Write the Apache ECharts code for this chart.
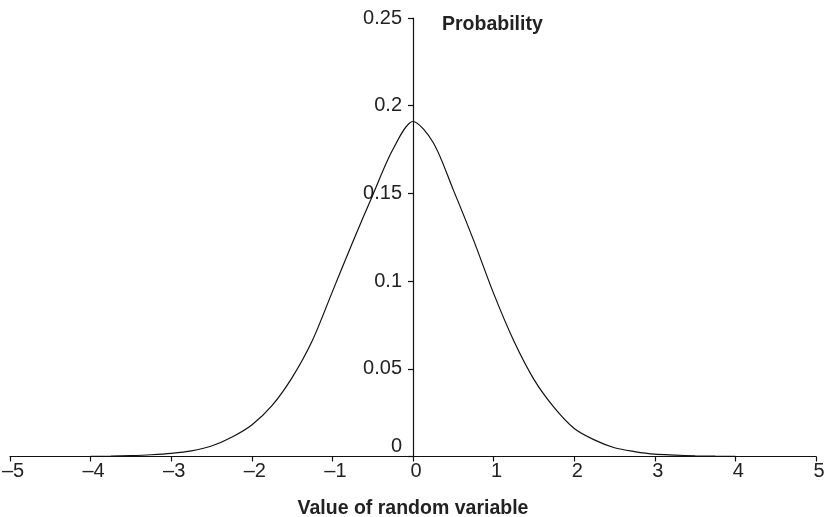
<!DOCTYPE html>
<html>
<head>
<meta charset="utf-8">
<script src="https://cdn.jsdelivr.net/npm/echarts@6/dist/echarts.min.js"></script>
<style>
html,body{margin:0;padding:0;background:#fff;}
#c{width:826px;height:517px;}
</style>
</head>
<body>
<div id="c"></div>
<script>
const xValues = [-4, -3.75, -3.5, -3.25, -3, -2.75, -2.5, -2.25, -2, -1.75, -1.5, -1.25, -1, -0.75, -0.5, -0.25, 0, 0.25, 0.5, 0.75, 1, 1.25, 1.5, 1.75, 2, 2.25, 2.5, 2.75, 3, 3.25, 3.5, 3.75, 4];
const probValues = [0.0001, 0.0002, 0.0005, 0.001, 0.0018, 0.0032, 0.006, 0.011, 0.018, 0.029, 0.045, 0.066, 0.094, 0.122, 0.149, 0.175, 0.191, 0.179, 0.152, 0.1235, 0.093, 0.066, 0.044, 0.028, 0.016, 0.0095, 0.005, 0.0028, 0.0013, 0.0008, 0.0004, 0.0002, 0.0001];
const xTitle = 'Value of random variable';
const yTitle = 'Probability';

const chart = echarts.init(document.getElementById('c'), null, {renderer: 'canvas'});
const font = '"Liberation Sans", Arial, Helvetica, sans-serif';
const data = xValues.map((x, i) => [x, probValues[i]]);

const gridLeft = 10, gridRight = 10;
const xMin = -5, xMax = 5;
const plotW = 826 - gridLeft - gridRight;
// offset that places the y axis at x = 0 of the value x axis
const yAxisOffset = -plotW * (0 - xMin) / (xMax - xMin);

chart.setOption({
  animation: false,
  backgroundColor: '#ffffff',
  grid: {left: gridLeft, right: gridRight, top: 18, bottom: 60.5, containLabel: false, outerBoundsMode: 'none'},
  title: [
    {text: yTitle, left: 437, top: 10, textStyle: {fontFamily: font, fontSize: 19.5, fontWeight: 'bold', color: '#222'}},
    {text: xTitle, left: 'center', top: 494, textStyle: {fontFamily: font, fontSize: 19.5, fontWeight: 'bold', color: '#222'}}
  ],
  xAxis: {
    type: 'value', min: xMin, max: xMax, interval: 1,
    axisLine: {onZero: false, lineStyle: {color: '#111', width: 1.2}},
    axisTick: {show: true, inside: false, length: 5, lineStyle: {color: '#111', width: 1.2}},
    axisLabel: {
      margin: 5, fontFamily: font, fontSize: 20, color: '#222', padding: [0, 0, 0, 6],
      formatter: v => String(v).replace('-', '\u2013')
    },
    splitLine: {show: false}
  },
  yAxis: {
    type: 'value', min: 0, max: 0.25, interval: 0.05,
    position: 'left', offset: yAxisOffset,
    axisLine: {show: true, onZero: false, lineStyle: {color: '#111', width: 1.2}},
    axisTick: {show: true, inside: false, length: 5, lineStyle: {color: '#111', width: 1.2}},
    axisLabel: {
      margin: 11, fontFamily: font, fontSize: 20, color: '#222',
      formatter: v => v === 0 ? '{z|0}' : String(+v.toFixed(2)),
      rich: {z: {fontFamily: font, fontSize: 20, color: '#222', padding: [0, 0, 20, 0]}}
    },
    splitLine: {show: false}
  },
  series: [{
    type: 'line',
    data: data,
    smooth: 0.3,
    symbol: 'none',
    lineStyle: {color: '#111', width: 1.2}
  }]
});
</script>
</body>
</html>
